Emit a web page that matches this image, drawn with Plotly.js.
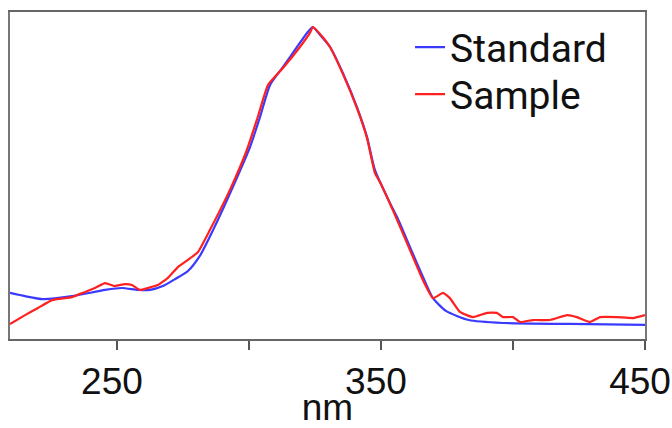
<!DOCTYPE html>
<html>
<head>
<meta charset="utf-8">
<script src="https://cdn.plot.ly/plotly-3.0.1.min.js"></script>
<style>html,body{margin:0;padding:0;background:#fff;}#chart{width:672px;height:428px;}</style>
</head>
<body>
<div id="chart"></div>
<script>
// Standard spectrum (wavelength nm, relative intensity)
const standardX = [209.5,215.2,222.0,233.0,245.5,251.9,258.0,262.5,267.4,272.0,276.9,281.4,286.4,293.9,300.4,304.2,308.0,312.9,318.2,322.0,324.2,326.9,330.7,335.6,340.9,344.7,347.7,353.4,356.1,361.0,365.9,369.7,374.6,383.3,396.2,421.2,450.0];
const standardY = [14.1,13.1,12.2,13.1,15.0,15.6,15.0,15.0,16.2,18.3,20.8,25.4,33.3,46.5,58.7,67.9,77.7,83.2,89.3,93.6,95.4,93.0,89.3,81.3,70.9,61.8,51.7,41.6,37.3,28.1,19.0,12.5,8.6,5.8,4.9,4.6,4.3];
// Sample spectrum
const sampleX = [209.5,215.2,220.1,225.4,233.0,237.9,241.7,245.5,249.2,253.0,255.7,258.7,261.7,265.5,269.3,273.1,276.9,280.7,285.2,292.8,299.2,303.0,307.2,312.9,319.3,323.1,324.2,326.9,330.7,335.6,340.9,344.7,347.7,349.6,354.5,361.0,365.9,369.7,373.5,376.1,379.9,384.8,390.2,393.9,396.2,400.0,402.7,407.6,414.0,420.5,424.2,429.2,433.0,439.4,445.5,450.0];
const sampleY = [4.6,7.3,9.5,11.9,12.8,14.4,15.6,17.1,16.2,16.8,16.5,15.0,15.6,16.5,18.7,22.0,24.2,26.6,33.3,45.6,57.8,67.0,77.7,82.9,89.3,93.6,95.4,93.3,89.3,81.0,70.6,61.5,50.8,48.0,39.4,27.2,18.0,12.5,14.1,12.5,8.3,6.7,8.0,8.0,6.7,6.7,5.2,5.8,5.8,7.3,6.7,5.2,6.7,6.7,6.4,7.3];
const seriesNames = ['Standard', 'Sample'];
const tickVals = [250, 300, 350, 400, 450];
const tickText = ['250', '', '350', '', '450'];

const traces = [
  {x: standardX, y: standardY, name: seriesNames[0], type: 'scatter', mode: 'lines', legend: 'legend',
   line: {color: '#3a3aff', width: 2.2, shape: 'spline', smoothing: 0.6}},
  {x: sampleX, y: sampleY, name: seriesNames[1], type: 'scatter', mode: 'lines', legend: 'legend2',
   line: {color: '#ff2020', width: 2.2, shape: 'spline', smoothing: 0.4}}
];

const legendFont = {family: 'Roboto, Open Sans, sans-serif', size: 39, color: '#111'};
const layout = {
  width: 672, height: 428,
  margin: {l: 10, r: 27, t: 12, b: 89},
  paper_bgcolor: '#fff', plot_bgcolor: '#fff',
  showlegend: true,
  legend: {x: 0.63, xanchor: 'left', y: 0.99, yanchor: 'top', xref: 'paper', yref: 'paper',
           font: legendFont, itemwidth: 30, bgcolor: 'rgba(0,0,0,0)', borderwidth: 0},
  legend2: {x: 0.63, xanchor: 'left', y: 0.846, yanchor: 'top', xref: 'paper', yref: 'paper',
           font: legendFont, itemwidth: 30, bgcolor: 'rgba(0,0,0,0)', borderwidth: 0},
  xaxis: {
    range: [209.5, 450], showgrid: false, zeroline: false,
    tickmode: 'array', tickvals: tickVals, ticktext: tickText,
    ticks: 'outside', ticklen: 9, tickwidth: 2, tickcolor: '#555',
    ticklabeloverflow: 'allow', ticklabelshift: -5,
    showline: true, linecolor: '#666', linewidth: 2, mirror: true,
    tickfont: {family: 'Liberation Sans, Arial, sans-serif', size: 37, color: '#111'},
    title: {text: 'nm', font: {family: 'Liberation Sans, Arial, sans-serif', size: 37, color: '#111'}, standoff: 12}
  },
  yaxis: {
    range: [0, 100], showgrid: false, zeroline: false, showticklabels: false, ticks: '',
    showline: true, linecolor: '#777', linewidth: 2, mirror: true
  }
};

Plotly.newPlot('chart', traces, layout, {displayModeBar: false, staticPlot: true});
</script>
</body>
</html>
